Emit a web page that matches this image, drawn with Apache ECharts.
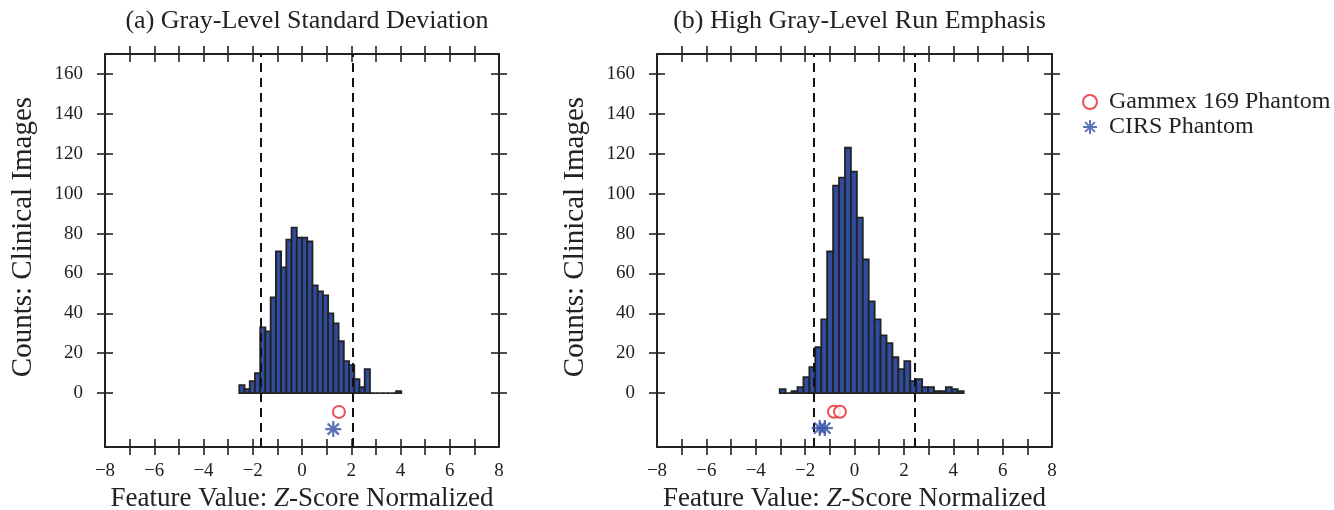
<!DOCTYPE html>
<html><head><meta charset="utf-8">
<script src="https://cdn.jsdelivr.net/npm/echarts@6/dist/echarts.min.js"></script>
<style>html,body{margin:0;padding:0;background:#fff;}#c{width:1334px;height:510px;}</style>
</head><body><div id="c"></div>
<script>
// ---------- data ----------
const xTickLabels = [-8, -6, -4, -2, 0, 2, 4, 6, 8];
const xTicks = [-7, -6, -5, -4, -3, -2, -1, 0, 1, 2, 3, 4, 5, 6, 7];
const yTickLabels = [0, 20, 40, 60, 80, 100, 120, 140, 160];
const titles = ['(a) Gray-Level Standard Deviation', '(b) High Gray-Level Run Emphasis'];
const yAxisTitle = 'Counts: Clinical Images';
const seriesNames = ['Gammex 169 Phantom', 'CIRS Phantom'];

const leftBinStart = -2.546, leftBinWidth = 0.2122;
const leftCounts = [4, 2, 6, 10, 33, 31, 48, 71, 63, 77, 83, 78, 78, 76, 54, 51, 49, 40, 35, 26, 16, 14, 7, 3, 12, 0, 0, 0, 0, 0, 1];
const leftThresholds = [-1.66, 2.08];
const leftGammex = [[1.50, -9.4]];
const leftCirs = [[1.27, -18]];

const rightBinStart = -3.03, rightBinWidth = 0.2404;
const rightCounts = [2, 0, 1, 3, 8, 13, 23, 37, 71, 104, 108, 123, 111, 88, 67, 46, 37, 29, 25, 18, 12, 16, 6, 7, 3, 3, 1, 1, 3, 2, 1];
const rightThresholds = [-1.64, 2.43];
const rightGammex = [[-0.83, -9.3], [-0.59, -9.3]];
const rightCirs = [[-1.41, -17.5], [-1.20, -17.5]];

// ---------- styling ----------
const FONT = '"Liberation Serif", "DejaVu Serif", serif';
const INK = '#222';
const BAR = '#2f4c9f';
const RED = '#e8232b';
const BLUE = '#3550a8';
const STAR = 'path://M43 0L57 0L57 100L43 100Z M0 43L100 43L100 57L0 57Z M20 10L90 80L80 90L10 20Z M80 10L90 20L20 90L10 80Z';

const grids = [
  { left: 105, top: 54, width: 394, height: 393, containLabel: false, outerBoundsMode: 'none' },
  { left: 657, top: 54, width: 395, height: 393, containLabel: false, outerBoundsMode: 'none' }
];
const Y_MIN = -27, Y_MAX = 170;

function hist(start, w, counts) {
  return counts.map((c, i) => [start + i * w, start + (i + 1) * w, c]);
}
const fmt = v => (v < 0 ? '\u2212' + Math.abs(v) : String(v));

const xAxis = [], yAxis = [], series = [];
grids.forEach((g, gi) => {
  const base = { gridIndex: gi, type: 'value', min: -8, max: 8, interval: 1, splitLine: { show: false } };
  const lineOn = { show: true, onZero: false, lineStyle: { color: INK, width: 2 } };
  const lineOff = { show: false, onZero: false };
  const tick = inside => ({ show: true, inside, length: 8, customValues: xTicks, lineStyle: { color: INK, width: 1.6 } });
  xAxis.push(Object.assign({}, base, {
    position: 'bottom', axisLine: lineOn, axisTick: tick(false),
    axisLabel: { show: true, customValues: xTickLabels, formatter: fmt, fontFamily: FONT, fontSize: 19, color: INK, margin: 15 },
    name: '{n|Feature Value: }{i|Z}{n|-Score Normalized}', nameLocation: 'middle', nameGap: 37,
    nameTextStyle: { rich: { n: { fontFamily: FONT, fontSize: 27, color: INK }, i: { fontFamily: FONT, fontSize: 27, color: INK, fontStyle: 'italic' } } }
  }));
  xAxis.push(Object.assign({}, base, { position: 'bottom', axisLine: lineOff, axisTick: tick(true), axisLabel: { show: false } }));
  xAxis.push(Object.assign({}, base, { position: 'top', axisLine: lineOn, axisTick: tick(false), axisLabel: { show: false } }));
  xAxis.push(Object.assign({}, base, { position: 'top', axisLine: lineOff, axisTick: tick(true), axisLabel: { show: false } }));

  const ybase = { gridIndex: gi, type: 'value', min: Y_MIN, max: Y_MAX, splitLine: { show: false } };
  const ytick = inside => ({ show: true, inside, length: 8, customValues: yTickLabels, lineStyle: { color: INK, width: 1.6 } });
  yAxis.push(Object.assign({}, ybase, {
    position: 'left', axisLine: lineOn, axisTick: ytick(false),
    axisLabel: { show: true, customValues: yTickLabels, fontFamily: FONT, fontSize: 19, color: INK, margin: 22 }
  }));
  yAxis.push(Object.assign({}, ybase, { position: 'left', axisLine: lineOff, axisTick: ytick(true), axisLabel: { show: false } }));
  yAxis.push(Object.assign({}, ybase, { position: 'right', axisLine: lineOn, axisTick: ytick(false), axisLabel: { show: false } }));
  yAxis.push(Object.assign({}, ybase, { position: 'right', axisLine: lineOff, axisTick: ytick(true), axisLabel: { show: false } }));

  const xi = gi * 4, yi = gi * 4;
  const data = gi === 0 ? hist(leftBinStart, leftBinWidth, leftCounts) : hist(rightBinStart, rightBinWidth, rightCounts);
  const thr = gi === 0 ? leftThresholds : rightThresholds;
  series.push({
    type: 'custom', xAxisIndex: xi, yAxisIndex: yi, data, encode: { x: [0, 1], y: 2 }, silent: true,
    renderItem: (params, api) => {
      const p0 = api.coord([api.value(0), 0]);
      const p1 = api.coord([api.value(1), api.value(2)]);
      return { type: 'rect', shape: { x: p0[0], y: p1[1], width: p1[0] - p0[0], height: p0[1] - p1[1] },
        style: { fill: BAR, stroke: INK, lineWidth: 1.8 } };
    },
    markLine: {
      silent: true, symbol: ['none', 'none'], label: { show: false },
      lineStyle: { color: '#111', width: 2, type: [9, 6] },
      data: thr.map(v => ({ xAxis: v }))
    }
  });
  series.push({
    name: seriesNames[0], type: 'scatter', xAxisIndex: xi, yAxisIndex: yi,
    data: gi === 0 ? leftGammex : rightGammex, symbol: 'emptyCircle', symbolSize: 12,
    itemStyle: { color: RED, borderColor: RED, borderWidth: 2.2 }, z: 5
  });
  series.push({
    name: seriesNames[1], type: 'scatter', xAxisIndex: xi, yAxisIndex: yi,
    data: gi === 0 ? leftCirs : rightCirs, symbol: STAR, symbolSize: 16,
    itemStyle: { color: BLUE }, z: 5
  });
});

const chart = echarts.init(document.getElementById('c'), null, { renderer: 'canvas' });
chart.setOption({
  animation: false,
  backgroundColor: '#fff',
  title: titles.map((t, i) => ({
    text: t, left: grids[i].left + grids[i].width / 2, top: 3, textAlign: 'center',
    textStyle: { fontFamily: FONT, fontSize: 26, fontWeight: 'normal', color: INK }
  })),
  legend: {
    data: seriesNames, orient: 'vertical', left: 1077, top: 85, itemGap: 1,
    itemWidth: 28, itemHeight: 14,
    textStyle: { fontFamily: FONT, fontSize: 24, color: INK }
  },
  graphic: grids.map(g => ({
    type: 'text', x: g.left - 82, y: 237, rotation: Math.PI / 2,
    style: { text: yAxisTitle, fontFamily: FONT, fontSize: 29, fill: INK, align: 'center', verticalAlign: 'middle' }
  })),
  grid: grids,
  xAxis, yAxis, series
});
</script></body></html>
